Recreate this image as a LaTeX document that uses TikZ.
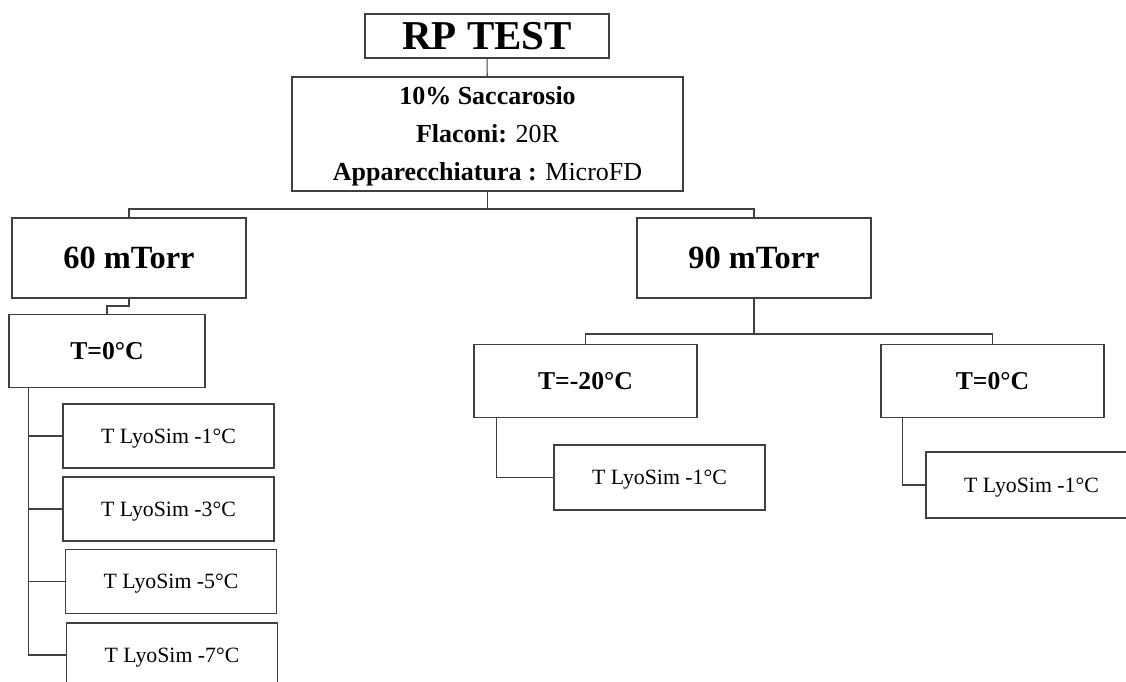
\documentclass[tikz,border=0pt]{standalone}
\usepackage{fontspec}
\setmainfont{Liberation Serif}
\usepackage{tikz}

\tikzset{
  box/.style={draw=black!75, line width=1.1pt, inner sep=0pt},
  link/.style={draw=black!75, line width=1.1pt},
  titlebox/.style={box, minimum width=244, minimum height=44,
    font=\fontsize{41}{48}\selectfont\bfseries},
  infobox/.style={box, align=center, minimum width=391, minimum height=114,
    font=\fontsize{26}{38}\selectfont},
  pressbox/.style={box, minimum width=234, minimum height=80,
    font=\fontsize{32.4}{38}\selectfont\bfseries},
  tempbox/.style={box, minimum height=73,
    font=\fontsize{25.7}{30}\selectfont\bfseries},
  lyobox/.style={box, minimum width=211, minimum height=64, text depth=0pt,
    font=\fontsize{21.8}{26}\selectfont}
}

\begin{document}
\begin{tikzpicture}[x=1pt, y=-1pt]
            \useasboundingbox (0,0) rectangle (1126,682);
            \clip (0,0) rectangle (1126,682);
            \node[titlebox] at (487,36) (rp) {RP TEST};
            \node[infobox] at (487.5,134) (info) {\rule{0pt}{22pt}\textbf{10\% Saccarosio}\\\textbf{Flaconi:} 20R\\\textbf{Apparecchiatura :} MicroFD};
            \node[pressbox] at (129,258) (p60) {60 mTorr};
            \node[pressbox] at (754,258) (p90) {90 mTorr};
            \node[tempbox, minimum width=196] at (107,351) (t60) {T=0°C};
            \node[tempbox, minimum width=223] at (585.5,381) (t90a) {T=-20°C};
            \node[tempbox, minimum width=223] at (992.5,381) (t90b) {T=0°C};
            \node[lyobox] at (168.5,436) (ly1) {T LyoSim -1°C};
            \node[lyobox] at (168.5,509) (ly3) {T LyoSim -3°C};
            \node[lyobox] at (171,581.5) (ly5) {T LyoSim -5°C};
            \node[lyobox] at (172,655) (ly7) {T LyoSim -7°C};
            \node[lyobox, minimum height=65] at (659.5,477.5) (lya) {T LyoSim -1°C};
            \node[lyobox, minimum height=66] at (1031.5,485) (lyb) {T LyoSim -1°C};
            \coordinate (j1) at (487.5,209);
            \coordinate (j2) at (754,334);
            \coordinate (j3) at (129,306);
            \draw[link] (rp) -- (info);
            \draw[link] (info.south) -- (j1) -| (p60.north);
            \draw[link] (j1) -| (p90.north);
            \draw[link] (p60.south) -- (j3) -| (t60.north);
            \draw[link] (p90.south) -- (j2) -| (t90a.north);
            \draw[link] (j2) -| (t90b.north);
            \foreach \n in {ly1,ly3,ly5,ly7}
              \draw[link] ([xshift=20]t60.south west) |- (\n.west);
            \draw[link] ([xshift=23]t90a.south west) |- (lya.west);
            \draw[link] ([xshift=22]t90b.south west) |- (lyb.west);
        \end{tikzpicture}
\end{document}
